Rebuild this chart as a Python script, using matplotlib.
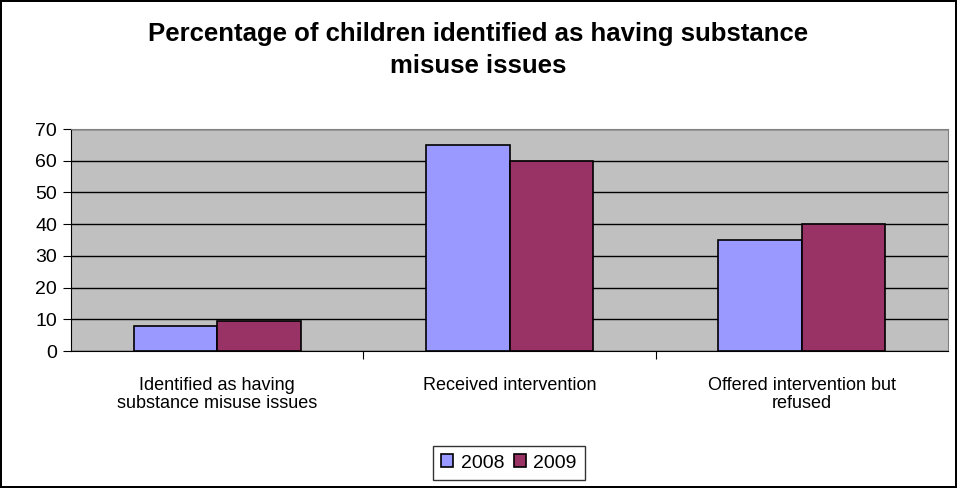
import numpy as np
import matplotlib
matplotlib.use("Agg")
import matplotlib.pyplot as plt

plt.rcParams['font.family'] = ['Liberation Sans', 'DejaVu Sans']

categories = ["Identified as having\nsubstance misuse issues",
              "Received intervention",
              "Offered intervention but\nrefused"]
series_names = ["2008", "2009"]
values_2008 = [8, 65, 35]
values_2009 = [9.5, 60, 40]
colors = ["#9999FF", "#993366"]

fig = plt.figure(figsize=(9.57, 4.88), dpi=100)
fig.patch.set_facecolor("white")
fig.patch.set_edgecolor("black")
fig.patch.set_linewidth(1.5)

ax = fig.add_axes([71/957, 1 - 351/488, (948 - 71)/957, (351 - 129)/488])
ax.set_facecolor("#C0C0C0")

x = np.arange(len(categories))
w = 0.286
ax.bar(x - w/2, values_2008, w, color=colors[0], edgecolor="black",
       linewidth=1.2, label=series_names[0], zorder=3)
ax.bar(x + w/2, values_2009, w, color=colors[1], edgecolor="black",
       linewidth=1.2, label=series_names[1], zorder=3)

ax.set_xlim(-0.5, 2.5)
ax.set_ylim(0, 70)
ax.set_yticks(range(0, 71, 10))
ax.yaxis.grid(True, color="black", linewidth=1, zorder=1)
ax.tick_params(axis="y", labelsize=14, length=6, direction="out", pad=4)

# category labels, ticks on boundaries
ax.set_xticks([0.5, 1.5], minor=False)
ax.set_xticklabels([])
ax.tick_params(axis="x", length=6, direction="out")
ax.set_xticks(x, minor=True)
ax.set_xticklabels(categories, minor=True, fontsize=13, linespacing=1.05)
ax.tick_params(axis="x", which="minor", length=0, pad=19)

for s in ["left", "bottom"]:
    ax.spines[s].set_color("black")
for s in ["top", "right"]:
    ax.spines[s].set_color("#808080")

fig.text(0.5, 1 - 50/488, "Percentage of children identified as having substance\nmisuse issues",
         ha="center", va="center", fontsize=18.5, fontweight="bold",
         linespacing=1.45)

leg = fig.legend(loc="center", bbox_to_anchor=(509/957, 1 - 463/488), ncol=2,
                 fontsize=14, frameon=True, fancybox=False, edgecolor="black",
                 handlelength=0.6, handleheight=0.6, handletextpad=0.4,
                 columnspacing=0.5, borderpad=0.45)
leg.get_frame().set_linewidth(1)

fig.savefig("out.png", dpi=100)
